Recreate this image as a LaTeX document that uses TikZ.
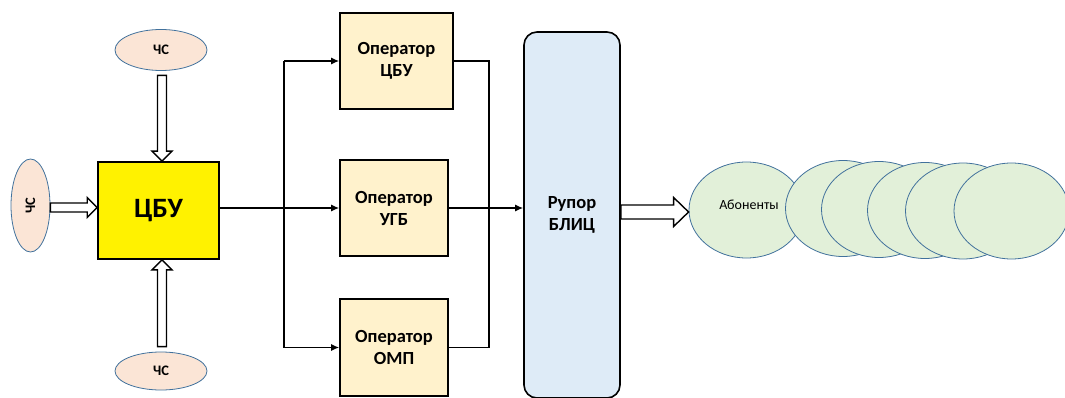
\documentclass[tikz,border=0pt]{standalone}
\usepackage{fontspec}
\setmainfont{Carlito}
\usetikzlibrary{calc,arrows.meta,shapes.geometric}
\definecolor{chsfill}{HTML}{FBE5D6}
\definecolor{ellline}{HTML}{41719C}
\definecolor{abfill}{HTML}{E2F0D9}
\definecolor{opfill}{HTML}{FFF2CC}
\definecolor{rupfill}{HTML}{DEEBF7}
\newcommand{\hollowarrow}[5]{%
  \path #1 coordinate (ha-s) #2 coordinate (ha-e);
  \path ($(ha-e)!#5pt!(ha-s)$) coordinate (ha-b);
  \draw[hollowline] ($(ha-s)!#3pt!90:(ha-e)$) -- ($(ha-b)!#3pt!-90:(ha-s)$) -- ($(ha-b)!#4pt!-90:(ha-s)$) -- (ha-e) -- ($(ha-b)!#4pt!90:(ha-s)$) -- ($(ha-b)!#3pt!90:(ha-s)$) -- ($(ha-s)!#3pt!-90:(ha-e)$) -- cycle;}
\begin{document}
\begin{tikzpicture}[x=1pt,y=-1pt,
  chs/.style={ellipse,draw=ellline,line width=0.8pt,fill=chsfill,inner sep=0pt,font=\fontsize{14.5}{16}\selectfont\bfseries},
  ab/.style={ellipse,draw=ellline,line width=0.8pt,fill=abfill,inner sep=0pt,minimum width=115pt,minimum height=96pt,font=\fontsize{14}{16}\selectfont},
  opbox/.style={rectangle,draw=black,line width=1.6pt,fill=opfill,inner sep=0pt,minimum height=96pt,align=center,font=\fontsize{18.5}{22}\selectfont\bfseries},
  conn/.style={line width=1.4pt,black},
  arr/.style={conn,-{Latex[length=8pt,width=7pt]}},
  hollowline/.style={draw=black,line width=1.4pt,fill=white,line join=miter}]
\useasboundingbox (0,0) rectangle (1065,398);
% ЧС ellipses
\node[chs,minimum width=92pt,minimum height=41pt] (chsT) at (161,50) {ЧС};
\node[chs,minimum width=39pt,minimum height=93pt] (chsL) at (30.5,205.5) {\rotatebox{90}{ЧС}};
\node[chs,minimum width=92pt,minimum height=38pt] (chsB) at (161,371) {ЧС};
% ЦБУ
\node[rectangle,draw=black,line width=1.6pt,fill=yellow,minimum width=121pt,minimum height=97pt,inner sep=0pt,font=\fontsize{28}{30}\selectfont\bfseries] (cbu) at (158.5,210.5) {ЦБУ};
% operators
\node[opbox,minimum width=113pt] (opc) at (396.5,61) {Оператор\\ЦБУ};
\node[opbox,minimum width=108pt] (opu) at (394,208) {Оператор\\УГБ};
\node[opbox,minimum width=108pt,minimum height=97pt] (opo) at (394,347.5) {Оператор\\ОМП};
% Рупор
\node[rectangle,rounded corners=13pt,draw=black,line width=1.6pt,fill=rupfill,minimum width=96pt,minimum height=366pt,inner sep=0pt,align=center,font=\fontsize{18.5}{22}\selectfont\bfseries] (rup) at (572,215) {Рупор\\БЛИЦ};
% abonents
\node[ab] (ab1) at (746.5,210) {};
\node[ab] (ab2) at (843,208.5) {};
\node[ab] (ab3) at (879,209.5) {};
\node[ab] (ab4) at (925,210.5) {};
\node[ab] (ab5) at (963,211) {};
\node[ab] (ab6) at (1011.5,211) {};
\node[font=\fontsize{14}{16}\selectfont] (abt) at (749,205) {Абоненты};
% hollow arrows
\hollowarrow{($(chsT.south)+(1,4.5)$)}{($(chsT.south |- cbu.north)+(1,0)$)}{4.5}{10}{10}
\hollowarrow{($(chsB.north)+(1,-5)$)}{($(chsB.north |- cbu.south)+(1,0)$)}{4.5}{10}{10}
\hollowarrow{($(chsL.east)+(0,2)$)}{($(cbu.west)+(0,-3)$)}{4.5}{10}{10}
\hollowarrow{($(rup.east |- ab1.west)+(0,2)$)}{($(ab1.west)+(0,2)$)}{7}{14.5}{15}
% connectors
\coordinate (busL) at (284,0);
\coordinate (busR) at (489,0);
\draw[arr] (cbu.east |- opu.west) -- (opu.west);
\draw[conn] (busL |- opc.west) -- (busL |- opo.west);
\draw[arr] (busL |- opc.west) -- (opc.west);
\draw[arr] (busL |- opo.west) -- (opo.west);
\draw[conn] (opc.east) -- (busR |- opc.east) -- (busR |- opo.east) -- (opo.east);
\draw[arr] (opu.east) -- (rup.west |- opu.east);
\end{tikzpicture}
\end{document}
